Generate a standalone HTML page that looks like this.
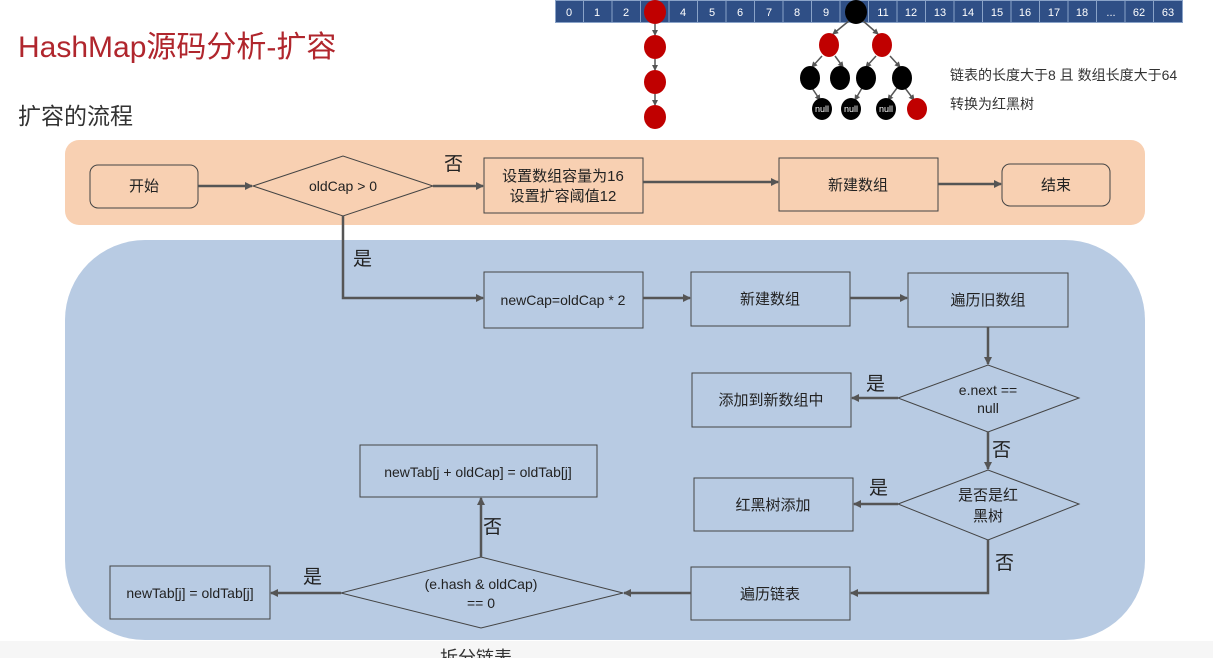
<!DOCTYPE html>
<html><head><meta charset="utf-8"><style>
html,body{margin:0;padding:0;background:#fff;}
svg{display:block;font-family:"Liberation Sans","Noto Sans CJK SC",sans-serif;}
</style></head><body>
<svg width="1213" height="658" viewBox="0 0 1213 658" xmlns="http://www.w3.org/2000/svg">
<defs>
<marker id="a" markerWidth="8" markerHeight="8" refX="7" refY="4" orient="auto" markerUnits="userSpaceOnUse"><path d="M0,0 L8,4 L0,8 z" fill="#555"/></marker>
<marker id="s" markerWidth="6" markerHeight="6" refX="5" refY="3" orient="auto" markerUnits="userSpaceOnUse"><path d="M0,0 L6,3 L0,6 z" fill="#555"/></marker>
</defs>
<rect x="0" y="641" width="1213" height="17" fill="#f6f6f6"/>
<text x="440" y="664" font-size="18" fill="#333">拆分链表</text>
<text x="18" y="57" font-size="30" fill="#b0262d">HashMap源码分析-扩容</text>
<text x="18" y="124" font-size="23" fill="#333">扩容的流程</text>

<!-- array -->
<g font-size="11" fill="#fff" text-anchor="middle">
<rect x="555" y="0" width="628" height="23" fill="#2f4f86"/>
<g stroke="#8aa3c8" stroke-width="1" fill="none">
<path d="M583.5,0v23M612,0v23M640.5,0v23M669,0v23M697.5,0v23M726,0v23M754.5,0v23M783,0v23M811.5,0v23M840,0v23M868.5,0v23M897,0v23M925.5,0v23M954,0v23M982.5,0v23M1011,0v23M1039.5,0v23M1068,0v23M1096.5,0v23M1125,0v23M1153.5,0v23"/>
<rect x="555.5" y="0.5" width="627" height="22"/>
</g>
<text x="569" y="16">0</text><text x="597" y="16">1</text><text x="626" y="16">2</text>
<text x="683" y="16">4</text><text x="712" y="16">5</text><text x="740" y="16">6</text><text x="769" y="16">7</text><text x="797" y="16">8</text><text x="826" y="16">9</text>
<text x="883" y="16">11</text><text x="911" y="16">12</text><text x="940" y="16">13</text><text x="968" y="16">14</text><text x="997" y="16">15</text><text x="1025" y="16">16</text><text x="1054" y="16">17</text><text x="1082" y="16">18</text><text x="1111" y="16">...</text><text x="1139" y="16">62</text><text x="1168" y="16">63</text>
</g>
<!-- linked list -->
<g stroke="#555" stroke-width="1.5" marker-end="url(#s)">
<line x1="655" y1="24" x2="655" y2="35"/><line x1="655" y1="59" x2="655" y2="70"/><line x1="655" y1="94" x2="655" y2="105"/>
</g>
<g fill="#c00000"><ellipse cx="655" cy="12" rx="11" ry="12"/><ellipse cx="655" cy="47" rx="11" ry="12"/><ellipse cx="655" cy="82" rx="11" ry="12"/><ellipse cx="655" cy="117" rx="11" ry="12"/></g>
<!-- tree -->
<g stroke="#555" stroke-width="1.5" marker-end="url(#s)">
<line x1="850" y1="20" x2="833" y2="34"/><line x1="862" y1="20" x2="878" y2="34"/>
<line x1="822" y1="56" x2="812" y2="67"/><line x1="835" y1="56" x2="843" y2="67"/>
<line x1="876" y1="56" x2="866" y2="67"/><line x1="890" y1="56" x2="900" y2="67"/>
<line x1="812" y1="88" x2="820" y2="100"/><line x1="862" y1="88" x2="855" y2="100"/>
<line x1="897" y1="88" x2="888" y2="100"/><line x1="905" y1="88" x2="914" y2="100"/>
</g>
<ellipse cx="856" cy="12" rx="11" ry="12" fill="#000"/>
<ellipse cx="829" cy="45" rx="10" ry="12" fill="#c00000"/><ellipse cx="882" cy="45" rx="10" ry="12" fill="#c00000"/>
<g fill="#000"><ellipse cx="810" cy="78" rx="10" ry="12"/><ellipse cx="840" cy="78" rx="10" ry="12"/><ellipse cx="866" cy="78" rx="10" ry="12"/><ellipse cx="902" cy="78" rx="10" ry="12"/>
<ellipse cx="822" cy="109" rx="10" ry="11"/><ellipse cx="851" cy="109" rx="10" ry="11"/><ellipse cx="886" cy="109" rx="10" ry="11"/></g>
<ellipse cx="917" cy="109" rx="10" ry="11" fill="#c00000"/>
<g font-size="9" fill="#fff" text-anchor="middle"><text x="822" y="112">null</text><text x="851" y="112">null</text><text x="886" y="112">null</text></g>
<text x="950" y="80" font-size="14" fill="#333">链表的长度大于8 且 数组长度大于64</text>
<text x="950" y="109" font-size="14" fill="#333">转换为红黑树</text>

<!-- backgrounds -->
<rect x="65" y="140" width="1080" height="85" rx="14" fill="#f8d0b2"/>
<rect x="65" y="240" width="1080" height="400" rx="80" fill="#b8cbe3"/>

<g fill="none" stroke="#444" stroke-width="1">
<rect x="90" y="165" width="108" height="43" rx="8"/>
<polygon points="253,186 343,156 433,186 343,216"/>
<rect x="484" y="158" width="159" height="55"/>
<rect x="779" y="158" width="159" height="53"/>
<rect x="1002" y="164" width="108" height="42" rx="8"/>
<rect x="484" y="272" width="159" height="56"/>
<rect x="691" y="272" width="159" height="54"/>
<rect x="908" y="273" width="160" height="54"/>
<polygon points="898,398 988,365 1079,398 988,432"/>
<rect x="692" y="373" width="159" height="54"/>
<polygon points="898,504 988,470 1079,504 988,540"/>
<rect x="694" y="478" width="159" height="53"/>
<rect x="691" y="567" width="159" height="53"/>
<polygon points="341,593 481,557 623,593 481,628"/>
<rect x="110" y="566" width="160" height="53"/>
<rect x="360" y="445" width="237" height="52"/>
</g>

<g fill="none" stroke="#555" stroke-width="2.5" marker-end="url(#a)">
<line x1="198" y1="186" x2="252" y2="186"/>
<line x1="433" y1="186" x2="483" y2="186"/>
<line x1="643" y1="182" x2="778" y2="182"/>
<line x1="938" y1="184" x2="1001" y2="184"/>
<polyline points="343,216 343,298 483,298"/>
<line x1="643" y1="298" x2="690" y2="298"/>
<line x1="850" y1="298" x2="907" y2="298"/>
<line x1="988" y1="327" x2="988" y2="364"/>
<line x1="898" y1="398" x2="852" y2="398"/>
<line x1="988" y1="432" x2="988" y2="469"/>
<line x1="898" y1="504" x2="854" y2="504"/>
<polyline points="988,540 988,593 851,593"/>
<line x1="691" y1="593" x2="624" y2="593"/>
<line x1="341" y1="593" x2="271" y2="593"/>
<line x1="481" y1="557" x2="481" y2="498"/>
</g>

<g font-size="15" fill="#222" text-anchor="middle">
<text x="144" y="191">开始</text>
<text x="343" y="191" font-size="14">oldCap &gt; 0</text>
<text x="563" y="181">设置数组容量为16</text>
<text x="563" y="201">设置扩容阈值12</text>
<text x="858" y="190">新建数组</text>
<text x="1056" y="190">结束</text>
<text x="563" y="305" font-size="14">newCap=oldCap * 2</text>
<text x="770" y="304">新建数组</text>
<text x="988" y="305">遍历旧数组</text>
<text x="988" y="395" font-size="14">e.next ==</text>
<text x="988" y="413" font-size="14">null</text>
<text x="771" y="405">添加到新数组中</text>
<text x="988" y="500">是否是红</text>
<text x="988" y="521">黑树</text>
<text x="773" y="510">红黑树添加</text>
<text x="770" y="599">遍历链表</text>
<text x="481" y="589" font-size="14">(e.hash &amp; oldCap)</text>
<text x="481" y="608" font-size="14">== 0</text>
<text x="190" y="598" font-size="14">newTab[j] = oldTab[j]</text>
<text x="478" y="477" font-size="14">newTab[j + oldCap] = oldTab[j]</text>
</g>
<g font-size="19" fill="#222">
<text x="444" y="170">否</text>
<text x="353" y="265">是</text>
<text x="866" y="390">是</text>
<text x="992" y="456">否</text>
<text x="869" y="494">是</text>
<text x="995" y="569">否</text>
<text x="303" y="583">是</text>
<text x="483" y="533">否</text>
</g>
</svg>
</body></html>
